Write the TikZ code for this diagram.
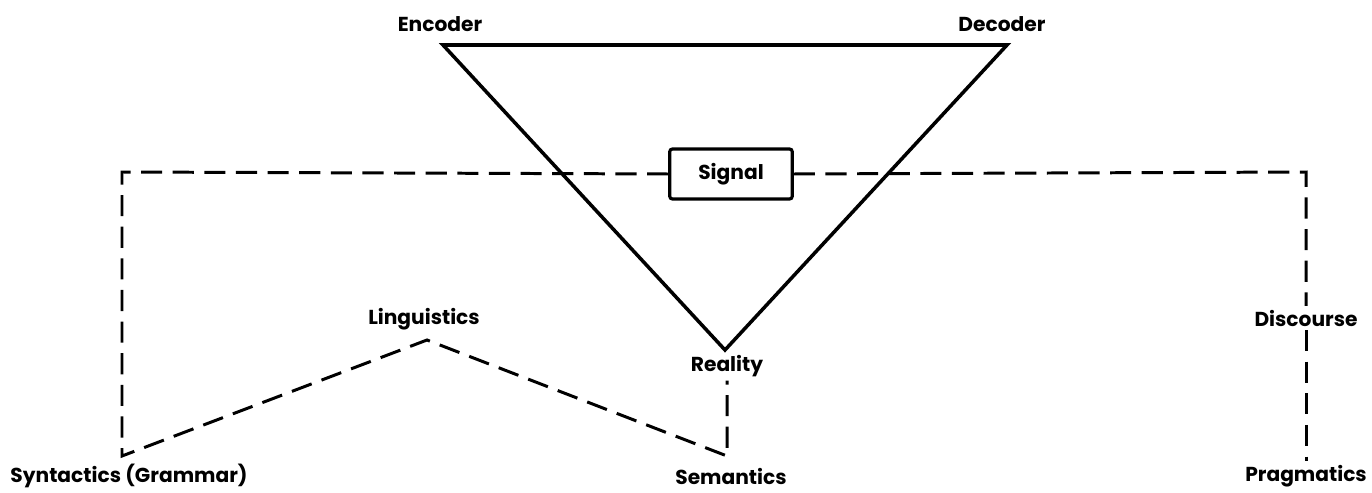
\documentclass[tikz,border=0pt]{standalone}
\usepackage{fontspec}
\setsansfont{Poppins}
\usetikzlibrary{positioning}

\begin{document}
\begin{tikzpicture}[
			x=0.02cm,
			y=-0.02cm,
			every node/.style={font=\sffamily\bfseries\fontsize{11.5}{13}\selectfont,
				inner sep=2pt},
			tri/.style={line width=2pt, line join=miter},
			dashline/.style={line width=1.7pt, dash pattern=on 12pt off 6pt},
			framebox/.style={draw, line width=1.8pt, rounded corners=1.5pt,
				minimum width=2.45cm, minimum height=1cm}
		]
			\useasboundingbox (0,0) rectangle (1372,493);

			% triangle corners
			\coordinate (encV) at (443,45);
			\coordinate (decV) at (1007,45);
			\coordinate (realV) at (725,350);
			\draw[tri] (encV) -- (decV) -- (realV) -- cycle;

			\node (encoder) at (440,24) {Encoder};
			\node (decoder) at (1002,24) {Decoder};
			\node (reality) at (727,366) {Reality};
			\node[framebox, fill=white] (signal) at (731,174) {Signal};

			\node (linguistics) at (424,319) {Linguistics};
			\node (syntactics) at (129,476) {Syntactics (Grammar)};
			\node (semantics) at (731,476) {Semantics};
			\node (discourse) at (1306,318) {Discourse};
			\node (pragmatics) at (1306,476) {Pragmatics};

			% dashed frame
			\coordinate (lt) at (122,172);
			\coordinate (rt) at (1306,172);
			\coordinate (synC) at (122,456);
			\coordinate (lingV) at (427,340);
			\coordinate (semC) at (727,456);

			\draw[dashline] (signal.west) -- (lt) -- (synC) -- (lingV)
				-- (semC) -- (reality.south);
			\draw[dashline] (signal.east) -- (rt) -- (discourse.north);
			\draw[dashline] (discourse.south) -- (pragmatics.north);
		\end{tikzpicture}
\end{document}
